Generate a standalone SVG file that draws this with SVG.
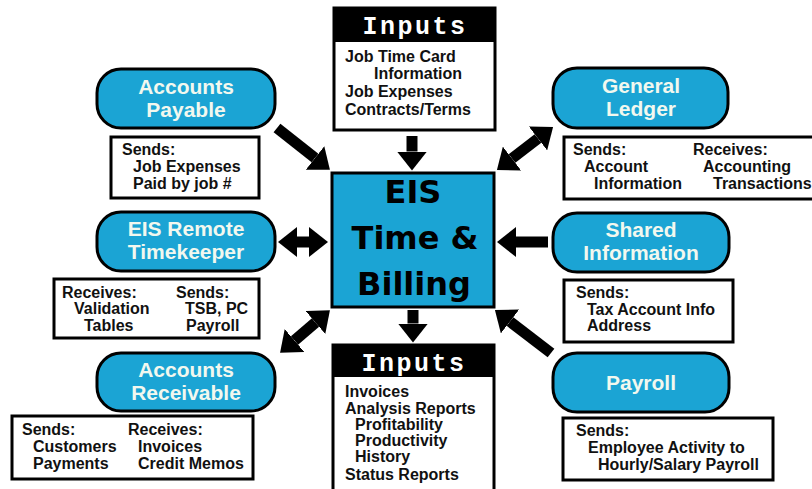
<svg xmlns="http://www.w3.org/2000/svg" width="812" height="489" viewBox="0 0 812 489">
<style>
.pill{fill:#1ba4d4;stroke:#000;stroke-width:3}
.pt{font-family:"Liberation Sans",Arial,sans-serif;font-weight:bold;font-size:21px;fill:#f2f8ef;text-anchor:middle}
.box{fill:#fff;stroke:#000;stroke-width:3}
.bt{font-family:"Liberation Sans",Arial,sans-serif;font-weight:bold;font-size:16px;fill:#111}
.hdr{fill:#000}
.ht{font-family:"Liberation Mono","Courier New",monospace;font-weight:bold;font-size:25px;fill:#fff;letter-spacing:2.5px;text-anchor:middle}
.ct{font-family:"DejaVu Sans",sans-serif;font-weight:bold;font-size:32px;fill:#000;text-anchor:middle}
.ar{stroke:#000;stroke-width:11;fill:none}
</style>
<defs>
<marker id="ah" viewBox="0 0 19 30" refX="0" refY="15" markerWidth="19" markerHeight="30" markerUnits="userSpaceOnUse" orient="auto-start-reverse">
<path d="M0,0 L19,15 L0,30 z" fill="#000"/>
</marker>
</defs>
<rect width="812" height="489" fill="#fff"/>

<g id="connectors">
<line class="ar" x1="412" y1="136" x2="412" y2="151.5" marker-end="url(#ah)"/>
<line class="ar" x1="413" y1="310" x2="413" y2="323.5" marker-end="url(#ah)"/>
<line class="ar" x1="277" y1="128" x2="315" y2="158" marker-end="url(#ah)"/>
<line class="ar" x1="512" y1="158.5" x2="538" y2="138.5" marker-start="url(#ah)" marker-end="url(#ah)"/>
<line class="ar" x1="297" y1="242" x2="309" y2="242" marker-start="url(#ah)" marker-end="url(#ah)"/>
<line class="ar" x1="548" y1="242" x2="516" y2="242" marker-end="url(#ah)"/>
<line class="ar" x1="294.5" y1="340.5" x2="315.5" y2="322.5" marker-start="url(#ah)" marker-end="url(#ah)"/>
<line class="ar" x1="551" y1="353" x2="510" y2="321.5" marker-end="url(#ah)"/>
</g>

<g id="center">
<rect x="332" y="173" width="162" height="134" fill="#1ba4d4" stroke="#000" stroke-width="3"/>
<text class="ct" x="413" y="203">EIS</text>
<text class="ct" x="415" y="249">Time &amp;</text>
<text class="ct" x="414" y="295">Billing</text>
</g>

<g id="inputs-top">
<rect class="box" x="334" y="8" width="161" height="122"/>
<rect class="hdr" x="334" y="8" width="161" height="34"/>
<text class="ht" x="415" y="34">Inputs</text>
<text class="bt" x="345" y="62">Job Time Card</text>
<text class="bt" x="374" y="79">Information</text>
<text class="bt" x="345" y="97">Job Expenses</text>
<text class="bt" x="345" y="115">Contracts/Terms</text>
</g>

<g id="inputs-bottom">
<rect class="box" x="333" y="345" width="161" height="150"/>
<rect class="hdr" x="333" y="345" width="161" height="32"/>
<text class="ht" x="414" y="371">Inputs</text>
<text class="bt" x="345" y="397">Invoices</text>
<text class="bt" x="345" y="414">Analysis Reports</text>
<text class="bt" x="355" y="430">Profitability</text>
<text class="bt" x="355" y="446">Productivity</text>
<text class="bt" x="355" y="462">History</text>
<text class="bt" x="345" y="480">Status Reports</text>
</g>

<g id="accounts-payable">
<rect class="pill" x="97" y="69" width="178" height="59" rx="24"/>
<text class="pt" x="186" y="94">Accounts</text>
<text class="pt" x="186" y="117">Payable</text>
<rect class="box" x="111" y="137" width="148" height="61"/>
<text class="bt" x="122" y="155">Sends:</text>
<text class="bt" x="133" y="172">Job Expenses</text>
<text class="bt" x="133" y="189">Paid by job #</text>
</g>

<g id="general-ledger">
<rect class="pill" x="553" y="68" width="175" height="60" rx="24"/>
<text class="pt" x="641" y="93">General</text>
<text class="pt" x="641" y="116">Ledger</text>
<rect class="box" x="564" y="137" width="260" height="62"/>
<text class="bt" x="573" y="155">Sends:</text>
<text class="bt" x="693" y="155">Receives:</text>
<text class="bt" x="584" y="172">Account</text>
<text class="bt" x="703" y="172">Accounting</text>
<text class="bt" x="594" y="189">Information</text>
<text class="bt" x="713" y="189">Transactions</text>
</g>

<g id="remote-timekeeper">
<rect class="pill" x="97" y="212" width="178" height="59" rx="24"/>
<text class="pt" x="186" y="236">EIS Remote</text>
<text class="pt" x="186" y="259">Timekeeper</text>
<rect class="box" x="54" y="279" width="205" height="59"/>
<text class="bt" x="62" y="298">Receives:</text>
<text class="bt" x="176" y="298">Sends:</text>
<text class="bt" x="74" y="314">Validation</text>
<text class="bt" x="185" y="314">TSB, PC</text>
<text class="bt" x="84" y="331">Tables</text>
<text class="bt" x="186" y="331">Payroll</text>
</g>

<g id="shared-information">
<rect class="pill" x="553" y="213" width="176" height="59" rx="24"/>
<text class="pt" x="641" y="237">Shared</text>
<text class="pt" x="641" y="260">Information</text>
<rect class="box" x="564" y="280" width="169" height="62"/>
<text class="bt" x="576" y="298">Sends:</text>
<text class="bt" x="587" y="315">Tax Account Info</text>
<text class="bt" x="587" y="331">Address</text>
</g>

<g id="accounts-receivable">
<rect class="pill" x="97" y="353" width="178" height="58" rx="24"/>
<text class="pt" x="186" y="377">Accounts</text>
<text class="pt" x="186" y="400">Receivable</text>
<rect class="box" x="12" y="416" width="241" height="63"/>
<text class="bt" x="22" y="435">Sends:</text>
<text class="bt" x="128" y="435">Receives:</text>
<text class="bt" x="33" y="452">Customers</text>
<text class="bt" x="138" y="452">Invoices</text>
<text class="bt" x="33" y="469">Payments</text>
<text class="bt" x="138" y="469">Credit Memos</text>
</g>

<g id="payroll">
<rect class="pill" x="553" y="353" width="176" height="59" rx="24"/>
<text class="pt" x="641" y="390">Payroll</text>
<rect class="box" x="563" y="418" width="210" height="62"/>
<text class="bt" x="576" y="436">Sends:</text>
<text class="bt" x="588" y="453">Employee Activity to</text>
<text class="bt" x="598" y="470">Hourly/Salary Payroll</text>
</g>
</svg>
